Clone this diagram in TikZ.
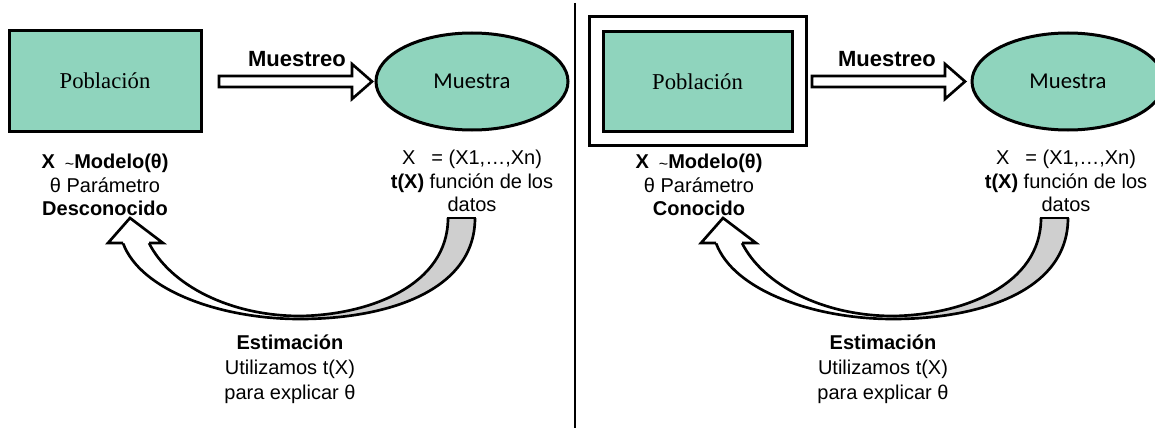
\documentclass[tikz,border=0pt]{standalone}
\usepackage{fontspec}
\setmainfont{Liberation Sans}
\newfontfamily\pobfont{Liberation Serif}
\newfontfamily\muefont{Carlito}
\usetikzlibrary{calc,shapes.geometric}
\definecolor{mint}{HTML}{8FD4BD}
\definecolor{bandgray}{HTML}{CFCFCF}
\newcommand\hollowarrow[2]{%
  \draw[blockarr] ($(#1)+(0,-5.5)$) -- ($(#2)+(-20,-5.5)$) -- ($(#2)+(-20,-17.5)$) -- (#2)
    -- ($(#2)+(-20,17.5)$) -- ($(#2)+(-20,5.5)$) -- ($(#1)+(0,5.5)$) -- cycle;}
\newcommand\estarrow{%
  \fill[bandgray] (448,218) -- (475,218) .. controls (475,292) and (385,319) .. (300,319)
     -- (300,316) .. controls (370,315) and (448,285) .. (448,218) -- cycle;
  \fill[white] (300,319) .. controls (220,319) and (140,290) .. (123,243) -- (149,243)
     .. controls (170,285) and (230,316) .. (300,316) -- cycle;
  \draw[bandline] (475,218) .. controls (475,292) and (385,319) .. (300,319)
     .. controls (220,319) and (140,290) .. (123,243);
  \draw[bandline] (448,218) .. controls (448,285) and (370,315) .. (300,316)
     .. controls (230,316) and (170,285) .. (149,243);
  \draw[bandline] (447,218) -- (476,218);
  \draw[bandline, fill=white] (123,243) -- (108,243) -- (130,218) -- (163,243) -- (149,243);}
\newcommand\tildemark{{\fontsize{12}{12}\selectfont\raisebox{-0.5pt}{\textasciitilde}}}
\begin{document}
\begin{tikzpicture}[x=0.75pt,y=-0.75pt,
  popbox/.style={draw, line width=2.25pt, fill=mint, inner sep=0pt,
    minimum width=144pt, minimum height=75pt, font=\pobfont\fontsize{17}{20}\selectfont},
  outerbox/.style={draw, line width=2.25pt, fill=white, inner sep=0pt,
    minimum width=162.75pt, minimum height=96pt},
  muebox/.style={ellipse, draw, line width=2.25pt, fill=mint, inner sep=0pt,
    minimum width=144pt, minimum height=72.75pt, font=\muefont\fontsize{17}{20}\selectfont},
  blockarr/.style={draw, line width=2pt, fill=white, line join=miter},
  bandline/.style={draw, line width=2pt, line join=miter},
  samplbl/.style={font=\bfseries\fontsize{16.5}{19}\selectfont, anchor=base},
  lbl/.style={align=center, inner sep=0pt, font=\fontsize{15}{17.6}\selectfont},
  estlbl/.style={align=center, inner sep=0pt, font=\fontsize{15}{18.75}\selectfont}]
\useasboundingbox (0,0) rectangle (1155,428);
\clip (0,0) rectangle (1155,428);

% divider
\draw[line width=1.5pt] (575,3) -- (575,428);

% ---------- left panel ----------
\node[popbox] (pob1) at (105,81) {Población};
\node[muebox] (mue1) at (472,81.5) {Muestra};
\coordinate (a1s) at (219,81.5);
\coordinate (a1e) at (372,81.5);
\hollowarrow{a1s}{a1e}
\node[samplbl] (smp1) at (297,67) {Muestreo};
\node[lbl] (lab1) at (105,185) {\textbf{X}\hspace{0.5em}\tildemark\textbf{Modelo(θ)}\\ θ Parámetro\\ \textbf{Desconocido}};
\node[lbl] (dat1) at (472,181) {X\hspace{0.8em}= (X1,…,Xn)\\ \textbf{t(X)} función de los\\ datos};
\estarrow
\node[estlbl] (est1) at (290,369) {\textbf{Estimación}\\ Utilizamos t(X)\\ para explicar θ};

% ---------- right panel ----------
\node[outerbox] (out2) at (697.5,81) {};
\node[popbox, minimum width=141.75pt, minimum height=74.25pt] (pob2) at (697.5,81.5) {Población};
\node[muebox] (mue2) at (1068,81.5) {Muestra};
\coordinate (a2s) at (812,81.5);
\coordinate (a2e) at (965,81.5);
\hollowarrow{a2s}{a2e}
\node[samplbl] (smp2) at (887,67) {Muestreo};
\node[lbl] (lab2) at (699,185) {\textbf{X}\hspace{0.5em}\tildemark\textbf{Modelo(θ)}\\ θ Parámetro\\ \textbf{Conocido}};
\node[lbl] (dat2) at (1066,181) {X\hspace{0.8em}= (X1,…,Xn)\\ \textbf{t(X)} función de los\\ datos};
\begin{scope}[xshift=444.75pt]
\estarrow
\end{scope}
\node[estlbl] (est2) at (883,369) {\textbf{Estimación}\\ Utilizamos t(X)\\ para explicar θ};
\end{tikzpicture}
\end{document}
